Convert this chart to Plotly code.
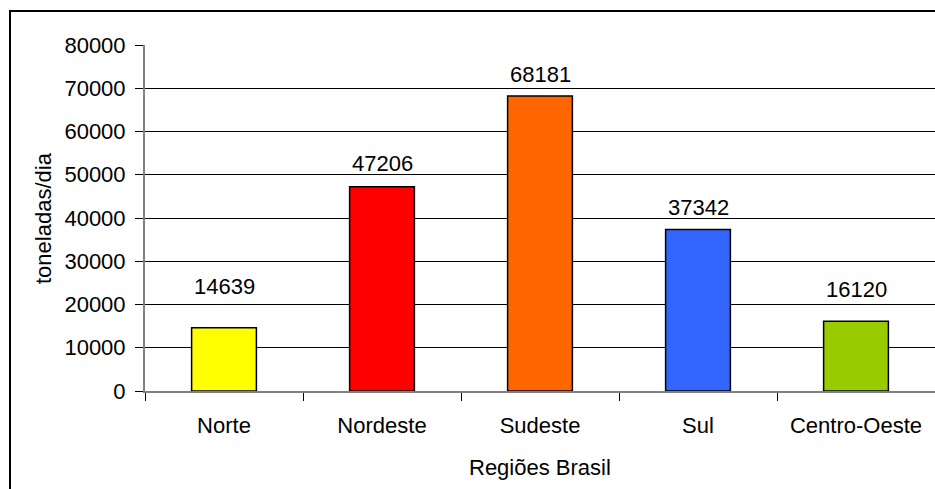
import plotly.graph_objects as go

# Resíduos sólidos coletados por região (toneladas/dia)
regioes = ["Norte", "Nordeste", "Sudeste", "Sul", "Centro-Oeste"]
toneladas = [14639, 47206, 68181, 37342, 16120]
cores = ["#FFFF00", "#FF0000", "#FF6600", "#3366FF", "#99CC00"]
y_ticks = [0, 10000, 20000, 30000, 40000, 50000, 60000, 70000, 80000]

# pixel lift of each value label above its bar
label_lift = [41, 23, 22, 22, 32]

W, H = 935, 489
L, R, T, B = 145, 0, 45, 98
plot_w = W - L - R
plot_h = H - T - B
FONT = "Liberation Sans, Arial, sans-serif"
FS = 22


def px_x(px):
    return (px - L) / plot_w


def px_y(py):
    return (H - B - py) / plot_h


fig = go.Figure()
fig.add_trace(go.Bar(
    x=regioes,
    y=toneladas,
    width=0.41,
    marker=dict(color=cores, line=dict(color="#000000", width=1.5)),
    showlegend=False,
    hoverinfo="x+y",
))

for reg, val, lift in zip(regioes, toneladas, label_lift):
    fig.add_annotation(
        x=reg, y=val, xref="x", yref="y",
        text=str(val), showarrow=False,
        yanchor="middle", xanchor="center", yshift=lift,
        font=dict(family=FONT, size=FS, color="#000000"),
    )

# axis titles
fig.add_annotation(
    x=0.5, y=px_y(467), xref="paper", yref="paper",
    text="Regiões Brasil", showarrow=False,
    xanchor="center", yanchor="middle",
    font=dict(family=FONT, size=FS, color="#000000"),
)
fig.add_annotation(
    x=px_x(43), y=0.5, xref="paper", yref="paper",
    text="toneladas/dia", showarrow=False, textangle=-90,
    xanchor="center", yanchor="middle",
    font=dict(family=FONT, size=FS, color="#000000"),
)

# chart frame
fig.add_shape(
    type="rect", xref="paper", yref="paper",
    x0=px_x(10), y0=px_y(520), x1=px_x(960), y1=px_y(11),
    line=dict(color="#000000", width=2), fillcolor="rgba(0,0,0,0)",
    layer="above",
)

fig.update_layout(
    width=W, height=H,
    margin=dict(l=L, r=R, t=T, b=B, pad=0),
    paper_bgcolor="#FFFFFF",
    plot_bgcolor="#FFFFFF",
    font=dict(family=FONT, size=FS, color="#000000"),
    bargap=0.59,
)

fig.update_xaxes(
    type="category",
    tickson="boundaries",
    ticks="outside", ticklen=8, tickwidth=1, tickcolor="#000000",
    showline=True, linecolor="#808080", linewidth=2,
    showgrid=False, zeroline=False,
    ticklabelstandoff=14,
    tickfont=dict(family=FONT, size=FS, color="#000000"),
)

fig.update_yaxes(
    range=[0, 80000],
    tickvals=y_ticks,
    ticktext=[str(v) for v in y_ticks],
    ticks="outside", ticklen=8, tickwidth=1, tickcolor="#000000",
    showline=True, linecolor="#808080", linewidth=2,
    showgrid=True, gridcolor="#000000", gridwidth=1,
    zeroline=False,
    ticklabelstandoff=5,
    tickfont=dict(family=FONT, size=FS, color="#000000"),
)

fig.write_html("out.html")
